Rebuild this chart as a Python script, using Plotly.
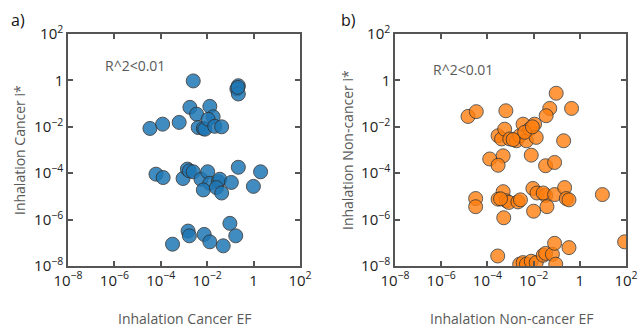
import plotly.graph_objects as go

# ---------------- data ----------------
cancer_ef = [
    2.5e-3, 0.22, 0.19, 0.22, 0.21, 3.4e-5, 1.2e-4, 6.2e-4, 1.8e-3, 1.3e-2,
    3.5e-3, 1.8e-2, 4.1e-3, 6.8e-3, 7.9e-3, 1.1e-2, 2.1e-2, 4.2e-2,
    6.2e-5, 1.26e-4, 9.1e-4, 1.4e-3, 1.7e-3, 2.5e-3, 5.4e-3, 1.05e-2, 1.3e-2,
    6.8e-3, 3.0e-2, 3.5e-2, 2.5e-2, 4.2e-2, 0.11, 0.22, 0.98, 2.0,
    3.2e-4, 1.5e-3, 1.7e-3, 7.4e-3, 1.3e-2, 4.9e-2, 9.5e-2, 0.17,
]
cancer_istar = [
    0.95, 0.59, 0.43, 0.26, 0.50, 8.5e-3, 1.3e-2, 1.55e-2, 6.9e-2, 7.6e-2,
    3.5e-2, 2.7e-2, 9.3e-3, 8.5e-3, 7.9e-3, 2.1e-2, 1.05e-2, 1.0e-2,
    9.1e-5, 6.5e-5, 5.9e-5, 1.5e-4, 1.26e-4, 1.15e-4, 5.5e-5, 1.15e-4, 3.7e-5,
    1.9e-5, 4.3e-5, 5.5e-5, 2.4e-5, 1.4e-5, 4.0e-5, 1.8e-4, 2.7e-5, 1.15e-4,
    8.7e-8, 3.2e-7, 2.0e-7, 2.3e-7, 1.1e-7, 7.4e-8, 6.9e-7, 2.0e-7,
]

noncancer_ef = [
    1.45e-5, 3.3e-5, 6.3e-4, 9.5e-2, 5.0e-2, 3.5e-2, 0.44, 0.20,
    2.9e-4, 4.1e-4, 5.6e-4, 9.3e-4, 1.8e-3, 2.5e-3, 3.5e-3, 4.9e-3, 6.8e-3,
    1.1e-2, 1.3e-2, 4.1e-3, 1.3e-3, 8.9e-3,
    1.26e-4, 4.8e-4, 2.9e-4, 7.9e-3, 3.3e-2, 8.1e-2,
    3.1e-5, 3.1e-5, 4.8e-4, 2.9e-4, 6.6e-4, 8.5e-4, 2.1e-3, 2.7e-3, 5.1e-4,
    9.3e-3, 1.4e-2, 3.3e-2, 2.6e-2, 8.1e-2, 0.22, 0.26, 0.34, 3.8e-2, 1.0e-2,
    9.5, 3.7e-4,
    2.8e-4, 2.5e-3, 3.5e-3, 4.9e-3, 7.9e-3, 1.3e-2, 2.6e-2, 3.3e-2, 6.5e-2,
    8.1e-2, 9.1e-2, 0.34, 87,
]
noncancer_istar = [
    2.8e-2, 4.5e-2, 4.9e-2, 0.28, 6.2e-2, 3.0e-2, 6.2e-2, 2.5e-3,
    4.1e-3, 3.0e-3, 7.9e-3, 3.0e-3, 2.5e-3, 4.1e-3, 1.3e-2, 2.5e-3, 7.9e-3,
    1.3e-2, 3.5e-3, 5.8e-3, 2.8e-3, 1.0e-2,
    4.1e-4, 5.6e-4, 2.2e-4, 6.0e-4, 2.1e-4, 2.9e-4,
    8.1e-6, 3.6e-6, 1.6e-5, 7.6e-6, 6.5e-6, 5.5e-6, 5.8e-6, 7.1e-6, 1.2e-6,
    2.2e-5, 1.4e-5, 1.1e-5, 1.4e-5, 1.2e-5, 2.4e-5, 8.1e-6, 7.1e-6, 3.6e-6, 2.3e-6,
    1.2e-5, 7.9e-6,
    2.7e-8, 1.2e-8, 1.4e-8, 1.2e-8, 1.6e-8, 1.4e-8, 2.9e-8, 3.5e-8, 3.2e-8,
    9.5e-8, 1.2e-8, 6.2e-8, 1.1e-7,
]

tick_vals = [1e-8, 1e-6, 1e-4, 1e-2, 1, 1e2]
tick_text = ["10<sup>−8</sup>", "10<sup>−6</sup>", "10<sup>−4</sup>",
             "10<sup>−2</sup>", "1", "10<sup>2</sup>"]

panel_labels = ["a)", "b)"]
x_titles = ["Inhalation Cancer EF", "Inhalation Non-cancer EF"]
y_titles = ["Inhalation Cancer i*", "Inhalation Non-cancer i*"]
r2_text = "R^2<0.01"

# ---------------- figure ----------------
W, H = 638, 328
FONT = "Open Sans"

fig = go.Figure()
fig.add_trace(go.Scatter(
    x=cancer_ef, y=cancer_istar, mode="markers", xaxis="x", yaxis="y",
    marker=dict(size=14, color="#1f77b4", opacity=0.85,
                line=dict(color="#333333", width=1)),
    showlegend=False))
fig.add_trace(go.Scatter(
    x=noncancer_ef, y=noncancer_istar, mode="markers", xaxis="x2", yaxis="y2",
    marker=dict(size=14, color="#ff7f0e", opacity=0.8,
                line=dict(color="#333333", width=1)),
    showlegend=False))

def px_x(p):
    return p / W

def px_y(p):
    return 1 - p / H

axis_common = dict(
    type="log", range=[-8, 2], tickvals=tick_vals, ticktext=tick_text,
    ticks="inside", ticklen=5, tickwidth=1.5, tickcolor="#555555",
    showline=True, linewidth=1.5, linecolor="#555555", mirror="ticks",
    showgrid=False, zeroline=False, automargin=False,
    tickfont=dict(family=FONT, size=15, color="#222222"),
)

fig.update_layout(
    width=W, height=H,
    margin=dict(l=0, r=0, t=0, b=0, pad=0),
    paper_bgcolor="white", plot_bgcolor="white",
    font=dict(family=FONT),
    xaxis=dict(domain=[px_x(68), px_x(300)], anchor="y", **axis_common),
    yaxis=dict(domain=[px_y(266), px_y(34)], anchor="x", **axis_common),
    xaxis2=dict(domain=[px_x(395), px_x(626)], anchor="y2", **axis_common),
    yaxis2=dict(domain=[px_y(266), px_y(34)], anchor="x2", **axis_common),
)

annots = []
# panel labels
for lab, xp in zip(panel_labels, [18, 348]):
    annots.append(dict(text=lab, x=px_x(xp), y=px_y(20), xref="paper", yref="paper",
                       showarrow=False, xanchor="center", yanchor="middle",
                       font=dict(family=FONT, size=16, color="#111111")))
# x titles
for t, xp in zip(x_titles, [184, 511]):
    annots.append(dict(text=t, x=px_x(xp), y=px_y(318), xref="paper", yref="paper",
                       showarrow=False, xanchor="center", yanchor="middle",
                       font=dict(family=FONT, size=14, color="#595959")))
# y titles
for t, xp in zip(y_titles, [19, 347]):
    annots.append(dict(text=t, x=px_x(xp), y=px_y(150), xref="paper", yref="paper",
                       showarrow=False, xanchor="center", yanchor="middle", textangle=-90,
                       font=dict(family=FONT, size=14, color="#595959")))
# R^2 text
for xp, yp in [(135, 66), (463, 70)]:
    annots.append(dict(text=r2_text, x=px_x(xp), y=px_y(yp), xref="paper", yref="paper",
                       showarrow=False, xanchor="center", yanchor="middle",
                       font=dict(family=FONT, size=14, color="#595959")))

fig.update_layout(annotations=annots)
fig.write_html(
    "out.html",
    config={"displayModeBar": False},
    post_script="document.body.style.margin='0';document.body.style.overflow='hidden';",
)
